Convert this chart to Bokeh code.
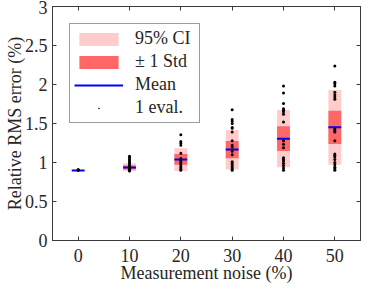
from bokeh.plotting import figure
from bokeh.models import LinearAxis, FixedTicker, ColumnDataSource, Range1d, Legend, LegendItem
from bokeh.embed import file_html
from bokeh.resources import INLINE

# ---- data ----
noise = [0, 10, 20, 30, 40, 50]
mean_err = [0.897, 0.936, 1.038, 1.166, 1.306, 1.451]
std_lo = [0.895, 0.91, 0.97, 1.056, 1.149, 1.238]
std_hi = [0.899, 0.96, 1.11, 1.277, 1.464, 1.664]
ci_lo = [0.894, 0.89, 0.89, 0.91, 0.94, 0.97]
ci_hi = [0.900, 0.99, 1.183, 1.417, 1.672, 1.928]

evals_0 = [0.90, 0.91, 0.90]
evals_10 = [1.08, 1.06, 1.04, 1.02, 1.00, 0.98, 0.96, 0.95, 0.94, 0.93, 0.92, 0.91, 0.90, 0.89]
evals_20 = [1.357, 1.27, 1.25, 1.22, 1.12, 1.05, 1.03, 1.01, 0.99, 0.97, 0.95, 0.93, 0.91, 0.90]
evals_30 = [1.676, 1.55, 1.53, 1.50, 1.45, 1.44, 1.39, 1.28, 1.22, 1.20, 1.145, 1.10,
            1.01, 0.99, 0.97, 0.95, 0.93, 0.91, 0.90]
evals_40 = [1.98, 1.89, 1.758, 1.69, 1.67, 1.65, 1.62, 1.52, 1.28, 1.235, 1.19,
            1.06, 1.04, 1.02, 0.99, 0.96, 0.93, 0.90]
evals_50 = [2.238, 2.03, 2.01, 1.98, 1.90, 1.87, 1.84, 1.81, 1.43, 1.41, 1.39, 1.28,
            1.11, 1.09, 1.07, 1.04, 1.00, 0.97, 0.94, 0.92, 0.90]

y_ticks = [0, 0.5, 1, 1.5, 2, 2.5, 3]
y_tick_labels = ["0", "0.5", "1", "1.5", "2", "2.5", "3"]
x_tick_labels = ["0", "10", "20", "30", "40", "50"]

# ---- style ----
FONT = "Liberation Serif"
FS = "18px"
AX_COL = "#3a3a3a"
TXT_COL = "#262626"
CI_COL = "#ffcccc"
STD_COL = "#ff6666"
MEAN_COL = "#0000ff"
BAR_W = 2.5

p = figure(width=363, height=285, output_backend="svg", toolbar_location=None,
           x_range=Range1d(-5, 55), y_range=Range1d(0, 3),
           min_border_left=52, min_border_right=3, min_border_top=6, min_border_bottom=0)
p.grid.visible = False
p.outline_line_color = AX_COL
p.outline_line_width = 1
p.background_fill_color = "white"
p.border_fill_color = "white"

src = ColumnDataSource(dict(
    x=noise, mean=mean_err, slo=std_lo, shi=std_hi, clo=ci_lo, chi=ci_hi,
    x0=[v - BAR_W / 2 for v in noise], x1=[v + BAR_W / 2 for v in noise]))

r_ci = p.vbar(x="x", width=BAR_W, bottom="clo", top="chi", source=src,
              fill_color=CI_COL, line_color=None)
r_std = p.vbar(x="x", width=BAR_W, bottom="slo", top="shi", source=src,
               fill_color=STD_COL, line_color=None)
r_mean = p.segment(x0="x0", x1="x1", y0="mean", y1="mean", source=src,
                   line_color=MEAN_COL, line_width=2)

groups = [evals_0, evals_10, evals_20, evals_30, evals_40, evals_50]
ex, ey = [], []
for n, g in zip(noise, groups):
    ex.extend([n] * len(g))
    ey.extend(g)
r_dot = p.scatter(ex, ey, size=12, color="black", marker="dot")

# axes
def style_axis(ax, show_labels=True):
    ax.axis_line_color = AX_COL
    ax.major_tick_line_color = AX_COL
    ax.major_tick_in = 4
    ax.major_tick_out = 0
    ax.minor_tick_line_color = None
    ax.major_label_text_font = FONT
    ax.major_label_text_font_size = FS if show_labels else "1px"
    ax.major_label_text_color = TXT_COL if show_labels else None
    ax.axis_label_text_font = FONT
    ax.axis_label_text_font_size = FS
    ax.axis_label_text_font_style = "normal"
    ax.axis_label_text_color = TXT_COL

xa = p.xaxis[0]
xa.ticker = FixedTicker(ticks=noise)
xa.major_label_overrides = {n: s for n, s in zip(noise, x_tick_labels)}
xa.axis_label = "Measurement noise (%)"
xa.major_label_standoff = 8
xa.axis_label_standoff = -2
style_axis(xa)

ya = p.yaxis[0]
ya.ticker = FixedTicker(ticks=y_ticks)
ya.major_label_overrides = {t: s for t, s in zip(y_ticks, y_tick_labels)}
ya.axis_label = "Relative RMS error (%)"
ya.major_label_standoff = 5
ya.axis_label_standoff = -3
style_axis(ya)

xt = LinearAxis(ticker=FixedTicker(ticks=noise), major_label_standoff=0)
style_axis(xt, show_labels=False)
p.add_layout(xt, "above")
yr = LinearAxis(ticker=FixedTicker(ticks=y_ticks), major_label_standoff=0)
style_axis(yr, show_labels=False)
p.add_layout(yr, "right")

legend = Legend(items=[
    LegendItem(label="95% CI", renderers=[r_ci]),
    LegendItem(label="\u00b1 1 Std", renderers=[r_std]),
    LegendItem(label="Mean", renderers=[r_mean]),
    LegendItem(label="1 eval.", renderers=[r_dot]),
], location="top_left")
legend.margin = 17
legend.padding = 4
legend.spacing = 2
legend.glyph_width = 49
legend.glyph_height = 16
legend.label_height = 16
legend.label_width = 60
legend.label_standoff = 12
legend.label_text_font = FONT
legend.label_text_font_size = FS
legend.label_text_color = TXT_COL
legend.border_line_color = AX_COL
legend.border_line_width = 1
legend.background_fill_color = "white"
legend.background_fill_alpha = 1
p.add_layout(legend, "center")

open("out.html", "w").write(file_html(p, INLINE))
